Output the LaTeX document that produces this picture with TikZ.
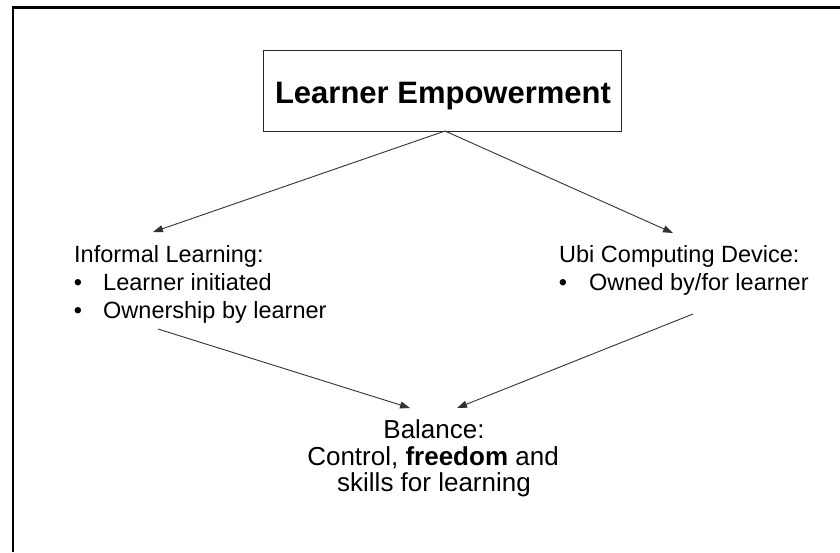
\documentclass[tikz,border=0pt]{standalone}
\usepackage{fontspec}
\setmainfont{Liberation Sans}
\usetikzlibrary{arrows.meta}
\begin{document}
\begin{tikzpicture}[x=1pt,y=-1pt,
  conn/.style={draw=black!80, line width=0.9pt, -{Triangle[length=10pt,width=7pt]}},
  sidetext/.style={anchor=base west, inner sep=0pt, font=\fontsize{23.5}{28}\selectfont},
  bullettext/.style={anchor=base, inner sep=0pt, font=\fontsize{23.5}{28}\selectfont},
  baltext/.style={anchor=base, inner sep=0pt, font=\fontsize{26}{30}\selectfont},
  titlebox/.style={draw=black!85, line width=0.9pt, minimum width=358pt, minimum height=81pt, inner sep=0pt}]
\useasboundingbox (0,0) rectangle (840,552);
\fill[white] (0,0) rectangle (840,552);
% frame (left and top edges)
\draw[line width=2.6pt] (13,552) -- (13,7.5) -- (840,7.5);
% title
\node[titlebox] (title) at (442,90.5) {};
\node[anchor=base, inner sep=0pt, font=\fontsize{31}{36}\selectfont\bfseries] (titletxt) at (443,103) {Learner Empowerment};
% left block
\node[sidetext] (infl) at (74,262) {Informal Learning:};
\node[bullettext] (lb1) at (78,290) {•};
\node[sidetext] (li1) at (103,290) {Learner initiated};
\node[bullettext] (lb2) at (78,318) {•};
\node[sidetext] (li2) at (103,318) {Ownership by learner};
% right block
\node[sidetext] (ubi) at (559,262) {Ubi Computing Device:};
\node[bullettext] (rb1) at (563,290) {•};
\node[sidetext] (ri1) at (589,290) {Owned by/for learner};
% balance block
\node[baltext] (bal1) at (434,438) {Balance:};
\node[baltext] (bal2) at (433,465) {Control, \textbf{freedom} and};
\node[baltext] (bal3) at (434,491) {skills for learning};
% connector ends
\coordinate (apex) at (445,131);
\coordinate (infltop) at (153,232);
\coordinate (ubitop) at (673,233);
\coordinate (leftout) at (158,329);
\coordinate (rightout) at (693,314);
\coordinate (balleft) at (410,408);
\coordinate (balright) at (457,408);
\draw[conn] (apex) -- (infltop);
\draw[conn] (apex) -- (ubitop);
\draw[conn] (leftout) -- (balleft);
\draw[conn] (rightout) -- (balright);
\end{tikzpicture}
\end{document}
